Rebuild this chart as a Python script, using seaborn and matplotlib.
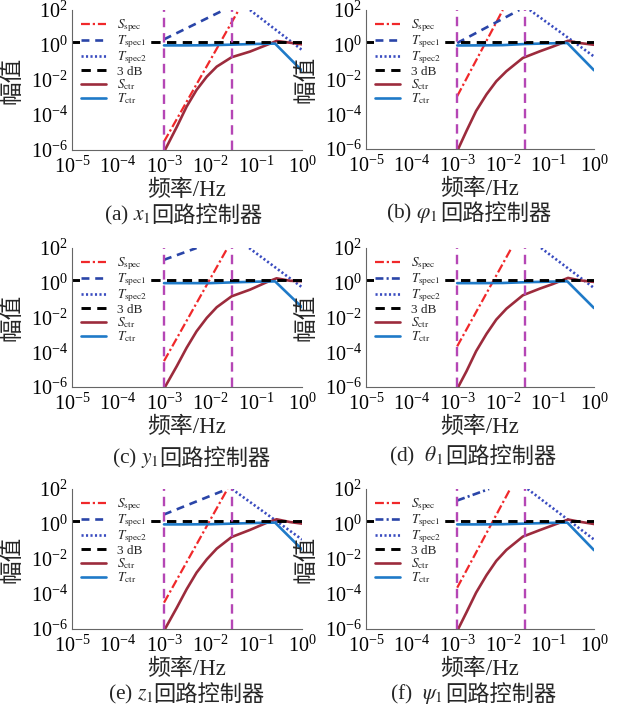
import matplotlib
matplotlib.use("Agg")
import matplotlib.pyplot as plt
import seaborn as sns
from matplotlib.ticker import FixedLocator, LogFormatterMathtext, NullFormatter, LogLocator

# ---------------- data ----------------
panel_ids = ["a", "b", "c", "d", "e", "f"]
captions_math = [r"(a) $x_1$", r"(b) $\varphi_1$ ", r"(c) $y_1$", r"(d)  $\theta_1$ ", r"(e) $z_1$", r"(f)  $\psi_1$ "]
caption_cjk = "回路控制器"
band_edges = [1e-3, 0.03]          # vertical magenta dashed lines
db3_level = 1.41                   # 3 dB line

# S_spec (start / end points of the straight log-log segment)
sspec_f_a, sspec_a = [1e-3, 0.042], [3.0e-6, 1e2]
sspec_f_b, sspec_b = [1e-3, 0.010], [1.1e-3, 1e2]
sspec_f_c, sspec_c = [1e-3, 0.024], [3.1e-5, 1e2]
sspec_f_d, sspec_d = [1e-3, 0.0155], [2.2e-4, 1e2]
sspec_f_e, sspec_e = [1e-3, 0.024], [3.2e-5, 1e2]
sspec_f_f, sspec_f = [1e-3, 0.0145], [2.3e-4, 1e2]

# T_spec1
tspec1_f_a, tspec1_a = [1e-3, 0.020], [2.1, 1e2]
tspec1_f_b, tspec1_b = [1e-3, 0.023], [1.26, 1e2]
tspec1_f_c, tspec1_c = [1e-3, 0.0051], [21.0, 1e2]
tspec1_f_d, tspec1_d = [], []
tspec1_f_e, tspec1_e = [1e-3, 0.024], [3.5, 1e2]
tspec1_f_f, tspec1_f = [1e-3, 0.005], [22.0, 1e2]

# T_spec2
tspec2_f_a, tspec2_a = [0.074, 1.0], [1e2, 0.52]
tspec2_f_b, tspec2_b = [0.039, 1.0], [1e2, 0.21]
tspec2_f_c, tspec2_c = [0.071, 1.0], [1e2, 0.55]
tspec2_f_d, tspec2_d = [0.069, 1.0], [1e2, 0.50]
tspec2_f_e, tspec2_e = [0.030, 1.0], [1e2, 0.13]
tspec2_f_f, tspec2_f = [0.035, 1.0], [1e2, 0.13]

# S_ctr
sctr_f_ace = [1.05e-3, 1.9e-3, 3.1e-3, 5.1e-3, 8.5e-3, 0.014, 0.0295, 0.074, 0.17, 0.28, 0.55, 1.0]
sctr_f_bdf = [1.05e-3, 1.6e-3, 2.6e-3, 4.4e-3, 7.2e-3, 0.012, 0.0275, 0.065, 0.126, 0.27, 0.48, 1.0]
sctr_a = [1e-6, 2.1e-5, 3.0e-4, 2.7e-3, 0.0155, 0.058, 0.20, 0.42, 1.0, 1.7, 1.35, 1.1]
sctr_b = [1e-6, 1.1e-5, 1.55e-4, 1.4e-3, 7.9e-3, 0.030, 0.174, 0.42, 0.79, 1.7, 1.26, 1.0]
sctr_c = [1e-6, 1.6e-5, 1.8e-4, 1.6e-3, 9.5e-3, 0.039, 0.166, 0.40, 1.07, 1.8, 1.3, 1.23]
sctr_d = [1e-6, 8.1e-6, 1.15e-4, 1.15e-3, 7.6e-3, 0.032, 0.19, 0.46, 0.85, 1.9, 1.38, 1.12]
sctr_e = [1e-6, 1.66e-5, 1.86e-4, 1.66e-3, 9.5e-3, 0.039, 0.18, 0.46, 1.17, 1.86, 1.29, 1.05]
sctr_f = [1e-6, 9.0e-6, 1.2e-4, 1.2e-3, 7.8e-3, 0.033, 0.19, 0.45, 0.85, 1.8, 1.35, 1.0]

# T_ctr
tctr_freq = [1e-3, 3e-3, 0.01, 0.03, 0.1, 0.26, 1.0]
tctr_a = [0.95, 0.95, 0.97, 1.05, 1.15, 1.2, 0.034]
tctr_b = [0.91, 0.92, 0.95, 1.10, 1.20, 1.26, 0.034]
tctr_c = [0.95, 0.95, 0.95, 1.05, 1.15, 1.2, 0.039]
tctr_d = [0.95, 0.95, 0.97, 1.07, 1.15, 1.2, 0.035]
tctr_e = [0.95, 0.95, 0.97, 1.05, 1.15, 1.2, 0.035]
tctr_f = [0.95, 0.95, 0.97, 1.05, 1.15, 1.2, 0.032]

x_ticks = [1e-5, 1e-4, 1e-3, 1e-2, 1e-1, 1e0]
y_ticks = [1e-6, 1e-4, 1e-2, 1e0, 1e2]
y_minor = [1e-5, 1e-3, 1e-1, 1e1]
legend_labels = [r"$S_{\rm spec}$", r"$T_{\rm spec1}$", r"$T_{\rm spec2}$", "3 dB",
                 r"$S_{\rm ctr}$", r"$T_{\rm ctr}$"]

# ---------------- style ----------------
sns.set_theme(style="white")
plt.rcParams["font.family"] = ["Liberation Serif", "Noto Sans CJK SC"]
plt.rcParams["mathtext.fontset"] = "stix"
plt.rcParams["axes.unicode_minus"] = False

C_SSPEC = "#F0282A"
C_T1 = "#2A45A8"
C_T2 = "#3A4CC0"
C_SCTR = "#9C2B3C"
C_TCTR = "#1F7AC8"
C_VL = "#B546B5"

W, H = 622, 714
fig = plt.figure(figsize=(W / 100, H / 100), dpi=100)
fig.patch.set_facecolor("white")

# axes boxes in pixels: left, top, right, bottom
boxes = [(72, 10, 302, 150), (366, 10, 594, 149),
         (72, 248, 302, 387), (366, 248, 594, 387),
         (72, 489, 302, 629), (366, 489, 594, 629)]
cap_pos = [(104, 215), (386, 213), (112, 458), (389, 456), (108, 694), (390, 694)]

series = {
    "a": (sspec_f_a, sspec_a, tspec1_f_a, tspec1_a, tspec2_f_a, tspec2_a, sctr_f_ace, sctr_a, tctr_a),
    "b": (sspec_f_b, sspec_b, tspec1_f_b, tspec1_b, tspec2_f_b, tspec2_b, sctr_f_bdf, sctr_b, tctr_b),
    "c": (sspec_f_c, sspec_c, tspec1_f_c, tspec1_c, tspec2_f_c, tspec2_c, sctr_f_ace, sctr_c, tctr_c),
    "d": (sspec_f_d, sspec_d, tspec1_f_d, tspec1_d, tspec2_f_d, tspec2_d, sctr_f_bdf, sctr_d, tctr_d),
    "e": (sspec_f_e, sspec_e, tspec1_f_e, tspec1_e, tspec2_f_e, tspec2_e, sctr_f_ace, sctr_e, tctr_e),
    "f": (sspec_f_f, sspec_f, tspec1_f_f, tspec1_f, tspec2_f_f, tspec2_f, sctr_f_bdf, sctr_f, tctr_f),
}

renderer = fig.canvas.get_renderer()

for i, pid in enumerate(panel_ids):
    l, t, r, b = boxes[i]
    ax = fig.add_axes([l / W, 1 - b / H, (r - l) / W, (b - t) / H])
    ax.set_xscale("log")
    ax.set_yscale("log")
    sf, sv, t1f, t1v, t2f, t2v, scf, scv, tcv = series[pid]
    t1_ls = (0, (3.0, 2.2)) if pid not in ("d", "f") else (0, (3.0, 1.2, 0.8, 1.2))

    sns.lineplot(x=sf, y=sv, ax=ax, color=C_SSPEC, lw=1.6, linestyle=(0, (4, 1.3, 1, 1.3)))
    h_sspec = ax.lines[-1]
    if len(t1f):
        sns.lineplot(x=t1f, y=t1v, ax=ax, color=C_T1, lw=1.9, linestyle=t1_ls)
        h_t1 = ax.lines[-1]
    else:
        h_t1, = ax.plot(t1f, t1v, color=C_T1, lw=1.9, linestyle=t1_ls)
    sns.lineplot(x=t2f, y=t2v, ax=ax, color=C_T2, lw=1.9, linestyle=(0, (0.8, 0.9)))
    h_t2 = ax.lines[-1]
    sns.lineplot(x=scf, y=scv, ax=ax, color=C_SCTR, lw=1.9)
    h_sctr = ax.lines[-1]
    sns.lineplot(x=tctr_freq, y=tcv, ax=ax, color=C_TCTR, lw=1.9)
    h_tctr = ax.lines[-1]
    h_db = ax.axhline(db3_level, color="black", lw=2.1, linestyle=(0, (3.2, 2.2)))
    for xe in band_edges:
        ax.axvline(xe, color=C_VL, lw=1.7, linestyle=(0, (4, 2.5)))

    ax.set_xlim(1e-5, 1e0)
    ax.set_ylim(1e-6, 1e2)
    ax.xaxis.set_major_locator(FixedLocator(x_ticks))
    ax.xaxis.set_minor_locator(LogLocator(base=10, subs=range(2, 10), numticks=20))
    ax.xaxis.set_major_formatter(LogFormatterMathtext())
    ax.xaxis.set_minor_formatter(NullFormatter())
    ax.yaxis.set_major_locator(FixedLocator(y_ticks))
    ax.yaxis.set_minor_locator(FixedLocator(y_minor))
    ax.yaxis.set_major_formatter(LogFormatterMathtext())
    ax.yaxis.set_minor_formatter(NullFormatter())
    ax.tick_params(which="both", direction="in", labelsize=14.5, colors="#555555", labelcolor="black")
    ax.tick_params(which="major", length=3, width=0.7)
    ax.tick_params(which="minor", length=2, width=0.6)
    ax.tick_params(axis="x", pad=5)
    ax.tick_params(axis="y", pad=3)
    for s in ("top", "right"):
        ax.spines[s].set_visible(False)
    for s in ("left", "bottom"):
        ax.spines[s].set_color("#666666")
        ax.spines[s].set_linewidth(0.8)

    ax.set_xlabel("频率/Hz", fontsize=16.5)
    ax.set_ylabel("幅值", fontsize=17)
    ax.xaxis.set_label_coords(0.5, -40.0 / (b - t))
    ax.yaxis.set_label_coords(-59.0 / (r - l), 0.5)
    ax.xaxis.label.set_va("center")
    ax.yaxis.label.set_va("center")

    ax.legend([h_sspec, h_t1, h_t2, h_db, h_sctr, h_tctr], legend_labels,
              loc="upper left", bbox_to_anchor=(0.035, 0.955), borderaxespad=0,
              fontsize=9.5, frameon=True, fancybox=False, framealpha=1,
              facecolor="white", edgecolor="none", borderpad=0.1,
              handlelength=1.9, handletextpad=0.8, labelspacing=-0.05)

    # caption: math/latin part + CJK part
    cx, cy = cap_pos[i]
    t1 = fig.text(cx / W, 1 - cy / H, captions_math[i], fontsize=15.5, ha="left", va="center",
                  family="Liberation Serif")
    bb = t1.get_window_extent(renderer=renderer)
    fig.text(bb.x1 / W, 1 - cy / H, caption_cjk, fontsize=16, ha="left", va="center",
             family="Noto Sans CJK SC")

fig.savefig("out.png", dpi=100, facecolor="white")
